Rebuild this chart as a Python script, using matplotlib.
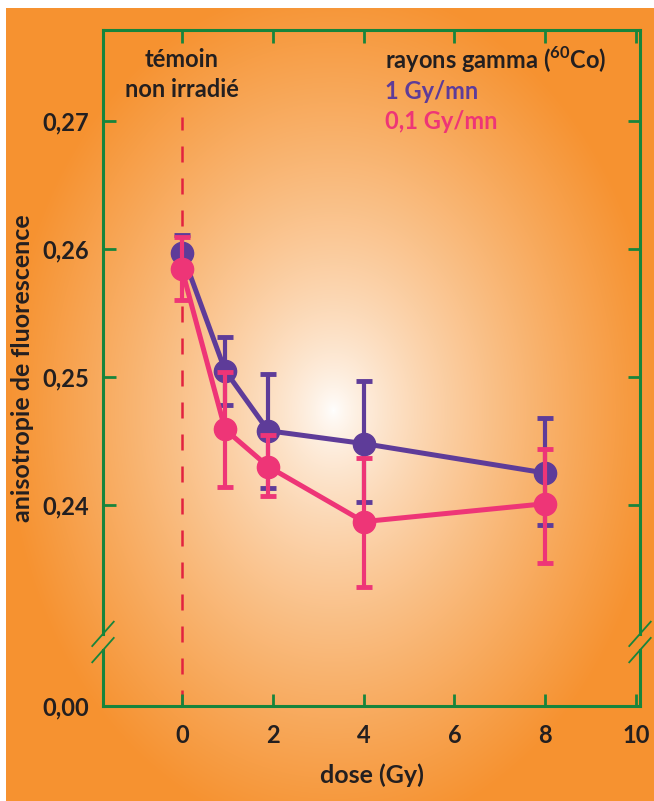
import numpy as np
import matplotlib
matplotlib.use('Agg')
import matplotlib.pyplot as plt
from matplotlib.lines import Line2D

plt.rcParams['font.family'] = ['Lato', 'DejaVu Sans']
plt.rcParams['font.weight'] = 'bold'
plt.rcParams['axes.labelweight'] = 'bold'
plt.rcParams['mathtext.fontset'] = 'custom'
plt.rcParams['mathtext.rm'] = 'Lato:bold'
plt.rcParams['mathtext.bf'] = 'Lato:bold'

# %% data
dose_fast = [0.0, 0.95, 1.9, 4.0, 8.0]          # 1 Gy/mn
aniso_fast = [0.2597, 0.2505, 0.2458, 0.2448, 0.2425]
err_fast_lo = [0.0012, 0.0027, 0.0045, 0.0046, 0.0041]
err_fast_hi = [0.0014, 0.0026, 0.0044, 0.0049, 0.0043]

dose_slow = [0.0, 0.95, 1.9, 4.0, 8.0]          # 0,1 Gy/mn
aniso_slow = [0.2584, 0.2459, 0.2430, 0.2387, 0.2401]
err_slow_lo = [0.0024, 0.0045, 0.0023, 0.0051, 0.0046]
err_slow_hi = [0.0025, 0.0045, 0.0025, 0.0050, 0.0043]

x_ticks = [0, 2, 4, 6, 8, 10]
y_ticks = [0.24, 0.25, 0.26, 0.27]
y_zero = 0.2243   # bottom of the broken axis, labelled 0,00
y_top = 0.2771
y_break = 0.2293

purple = '#5e3c99'
pink = '#ee3577'
green = '#17853c'
red = '#e2223f'
ink = '#231f20'

# %% figure and background
fig = plt.figure(figsize=(6.54, 8.01), dpi=100)
fig.patch.set_facecolor('white')

bg = fig.add_axes([6 / 654, 0, 1 - 6 / 654, 1 - 8 / 801])
bg.set_axis_off()
W, H = 648, 793
xx, yy = np.meshgrid(np.arange(W) + 6, np.arange(H) + 8)
r = np.sqrt(((xx - 333) / 330.0) ** 2 + ((yy - 410) / 430.0) ** 2)
t = np.clip(r, 0, 1) ** 0.75
orange = np.array([246, 146, 48]) / 255.0
white = np.array([1.0, 1.0, 1.0])
img = white[None, None, :] * (1 - t[..., None]) + orange[None, None, :] * t[..., None]
bg.imshow(img, aspect='auto', interpolation='bilinear')

# %% main axes
ax = fig.add_axes([103 / 654, 1 - 706 / 801, (640 - 103) / 654, 676 / 801])
ax.patch.set_alpha(0)
ax.set_xlim(-1.74, 10.09)
ax.set_ylim(y_zero, y_top)

# dashed line for the control
ax.plot([0, 0], [y_zero, 0.2703], color=red, lw=1.8, dashes=(6.4, 6.4), zorder=1)

ax.errorbar(dose_fast, aniso_fast, yerr=[err_fast_lo, err_fast_hi], color=purple,
            lw=3.6, marker='o', ms=16, elinewidth=3, capsize=6, capthick=3.5, zorder=3)
ax.errorbar(dose_slow, aniso_slow, yerr=[err_slow_lo, err_slow_hi], color=pink,
            lw=3.6, marker='o', ms=16, elinewidth=3, capsize=6, capthick=3.5, zorder=4)

ax.set_xticks(x_ticks)
ax.set_xticklabels([str(v) for v in x_ticks])
ax.set_yticks(y_ticks + [y_zero])
ax.set_yticklabels(['0,24', '0,25', '0,26', '0,27', '0,00'])
ax.tick_params(direction='in', length=9, width=2, color=green, labelsize=17,
               labelcolor=ink, top=True, right=True, pad=10)
ax.tick_params(axis='x', pad=13)

for side in ['top', 'bottom']:
    ax.spines[side].set_color(green)
    ax.spines[side].set_linewidth(2.2)
for side in ['left', 'right']:
    ax.spines[side].set_visible(False)

# left / right spines with a break
yb = (y_break - y_zero) / (y_top - y_zero)
gap = 0.012
for xa in [0, 1]:
    ax.add_line(Line2D([xa, xa], [0, yb - gap], transform=ax.transAxes, color=green,
                       lw=2.2, clip_on=False, solid_capstyle='projecting'))
    ax.add_line(Line2D([xa, xa], [yb + gap, 1], transform=ax.transAxes, color=green,
                       lw=2.2, clip_on=False, solid_capstyle='projecting'))
    for dy in [-gap, gap]:
        ax.add_line(Line2D([xa - 0.02, xa + 0.02], [yb + dy - 0.018, yb + dy + 0.018],
                           transform=ax.transAxes, color=green, lw=1.3, clip_on=False))

ax.set_xlabel('dose (Gy)', fontsize=18, color=ink, labelpad=12)
ax.set_ylabel('anisotropie de fluorescence', fontsize=18, color=ink, labelpad=6)

ax.text(0, 0.27477, 'témoin', ha='center', va='center', fontsize=17, color=ink)
ax.text(0, 0.27242, 'non irradié', ha='center', va='center', fontsize=17, color=ink)
ax.text(4.47, 0.27477, r'rayons gamma ($^{60}$Co)', ha='left', va='center',
        fontsize=17, color=ink)
ax.text(4.47, 0.27227, '1 Gy/mn', ha='left', va='center', fontsize=17, color=purple)
ax.text(4.47, 0.26992, '0,1 Gy/mn', ha='left', va='center', fontsize=17, color=pink)

fig.savefig('out.png', dpi=100)
